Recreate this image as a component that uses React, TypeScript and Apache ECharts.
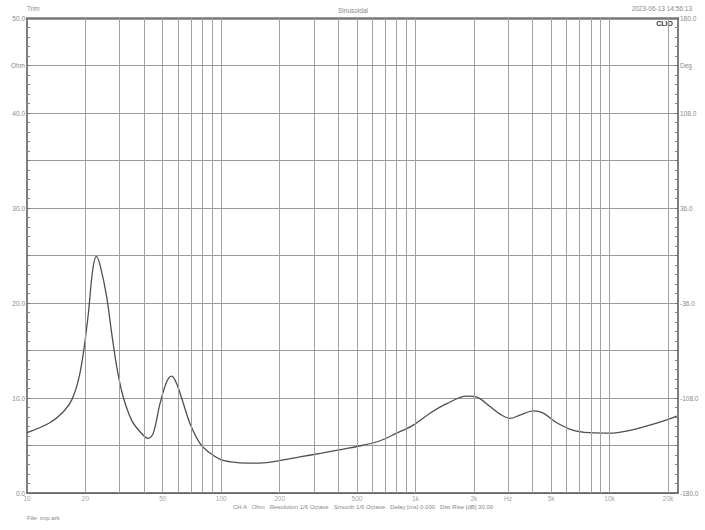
import React, { useEffect, useRef } from "react";
import * as echarts from "echarts";

const freqHz = [10, 13.1, 15.4, 17, 18.4, 19.5, 20.7, 21.8, 22.8, 23.9, 25.7, 27.3, 29.2, 31.3, 34.5, 38.2, 42.1, 44.7, 48.4, 52.4, 55.6, 59, 63.9, 69.1, 77.9, 87.6, 98.7, 115, 135, 158, 200, 254, 330, 420, 530, 658, 801, 975, 1190, 1450, 1837, 2069, 2422, 2729, 3070, 3457, 4049, 4557, 5344, 6508, 7925, 10046, 12741, 16150, 19680, 22180];
const impedanceOhm = [6.35, 7.4, 8.56, 9.8, 11.9, 14.7, 18.9, 23.5, 24.9, 23.8, 20.7, 16.8, 12.9, 10.1, 7.7, 6.45, 5.75, 6.3, 9.4, 11.7, 12.3, 11.5, 9.4, 7.3, 5.2, 4.2, 3.55, 3.25, 3.15, 3.15, 3.4, 3.8, 4.2, 4.6, 5.0, 5.5, 6.3, 7.15, 8.4, 9.4, 10.2, 10.1, 9.1, 8.3, 7.85, 8.2, 8.65, 8.4, 7.4, 6.6, 6.35, 6.3, 6.6, 7.15, 7.7, 8.1];

const gridFreqs = [20, 30, 40, 50, 60, 70, 80, 90, 100, 200, 300, 400, 500, 600, 700, 800, 900, 1000, 2000, 3000, 4000, 5000, 6000, 7000, 8000, 9000, 10000, 20000];
const xTickFreqs = [10, 20, 50, 100, 200, 500, 1000, 2000, 3000, 5000, 10000, 20000];
const xTickLabels = ["10", "20", "50", "100", "200", "500", "1k", "2k", "Hz", "5k", "10k", "20k"];
const leftLabels: Record<string, string> = { "0": "0.0", "10": "10.0", "20": "20.0", "30": "30.0", "40": "40.0", "45": "Ohm", "50": "50.0" };
const rightLabels: Record<string, string> = { "-180": "-180.0", "-108": "-108.0", "-36": "-36.0", "36": "36.0", "108": "108.0", "144": "Deg", "180": "180.0" };

const FREQ_MIN = 10;
const FREQ_MAX = 22500;

export default function App() {
  const ref = useRef<HTMLDivElement>(null);
  useEffect(() => {
    if (!ref.current) return;
    const chart = echarts.init(ref.current, undefined, { renderer: "svg" });
    const font = "Liberation Sans, Arial, sans-serif";
    const labelColor = "#888888";
    chart.setOption({
      animation: false,
      backgroundColor: "#ffffff",
      grid: { left: 27, right: 27, top: 18, bottom: 37, containLabel: false },
      xAxis: [
        {
          type: "log",
          logBase: 10,
          min: FREQ_MIN,
          max: FREQ_MAX,
          axisLine: { show: true, onZero: false, lineStyle: { color: "#555", width: 1.5 } },
          axisTick: { show: false },
          axisLabel: { show: false },
          splitLine: { show: false },
          minorSplitLine: { show: false },
        },
        {
          type: "log",
          logBase: 10,
          min: FREQ_MIN,
          max: FREQ_MAX,
          position: "top",
          axisLine: { show: true, onZero: false, lineStyle: { color: "#777", width: 2.5 } },
          axisTick: { show: false },
          axisLabel: { show: false },
          splitLine: { show: false },
        },
      ],
      yAxis: [
        {
          type: "value",
          min: 0,
          max: 50,
          interval: 5,
          position: "left",
          axisLine: { show: true, onZero: false, lineStyle: { color: "#555", width: 1.5 } },
          axisTick: { show: true, inside: true, length: 3, lineStyle: { color: "#777" } },
          minorTick: { show: true, splitNumber: 5, length: 3, lineStyle: { color: "#888" } },
          axisLabel: {
            color: labelColor,
            fontSize: 6.5,
            fontFamily: font,
            margin: 2,
            formatter: (v: number) => leftLabels[String(v)] ?? "",
          },
          splitLine: { show: true, lineStyle: { color: "#9a9a9a", width: 1 } },
        },
        {
          type: "value",
          min: -180,
          max: 180,
          interval: 36,
          position: "right",
          axisLine: { show: true, onZero: false, lineStyle: { color: "#555", width: 1.5 } },
          axisTick: { show: true, inside: true, length: 3, lineStyle: { color: "#777" } },
          minorTick: { show: true, splitNumber: 5, length: 3, lineStyle: { color: "#888" } },
          axisLabel: {
            color: labelColor,
            fontSize: 6.5,
            fontFamily: font,
            margin: 2,
            formatter: (v: number) => rightLabels[String(v)] ?? "",
          },
          splitLine: { show: false },
        },
      ],
      series: [
        {
          type: "line",
          name: "grid",
          data: [],
          silent: true,
          markLine: {
            silent: true,
            symbol: ["none", "none"],
            label: { show: false },
            lineStyle: { color: "#a0a0a0", type: "solid", width: 1 },
            data: gridFreqs.map((f) => ({ xAxis: f })),
          },
        },
        {
          type: "scatter",
          name: "xlabels",
          symbolSize: 0,
          silent: true,
          clip: false,
          data: xTickFreqs.map((f, i) => ({
            value: [f, 0],
            label: {
              show: true,
              position: "bottom",
              distance: 2,
              formatter: xTickLabels[i],
              color: labelColor,
              fontSize: 6.5,
              fontFamily: font,
            },
          })),
        },
        {
          type: "line",
          name: "Impedance",
          data: freqHz.map((f, i) => [f, impedanceOhm[i]]),
          smooth: 0.35,
          showSymbol: false,
          lineStyle: { color: "#505050", width: 1.3 },
        },
      ],
      graphic: [
        { type: "text", left: 27, top: 5, style: { text: "Trim", fontSize: 6.5, fill: labelColor, fontFamily: font } },
        { type: "text", x: 353, y: 10, style: { text: "Sinusoidal", fontSize: 6.5, fill: labelColor, fontFamily: font, textAlign: "center", textVerticalAlign: "middle" } },
        { type: "text", x: 692, y: 8, style: { text: "2023-06-13 14:56:13", fontSize: 6.5, fill: labelColor, fontFamily: font, textAlign: "right", textVerticalAlign: "middle" } },
        { type: "text", x: 673, y: 23, style: { text: "CLIO", fontSize: 7, fontWeight: "bold", fill: "#333", fontFamily: font, textAlign: "right", textVerticalAlign: "middle" } },
        { type: "text", x: 233, y: 507, style: { text: "CH A   Ohm   Resolution 1/6 Octave   Smooth 1/6 Octave   Delay [ms] 0.000   Dist Rise [dB] 30.00", fontSize: 6, fill: labelColor, fontFamily: font, textVerticalAlign: "middle" } },
        { type: "text", x: 27, y: 518, style: { text: "File: imp.ark", fontSize: 6, fill: labelColor, fontFamily: font, textVerticalAlign: "middle" } },
      ],
    });
    return () => chart.dispose();
  }, []);
  return <div ref={ref} style={{ position: "fixed", left: 0, top: 0, width: 705, height: 530 }} />;
}
